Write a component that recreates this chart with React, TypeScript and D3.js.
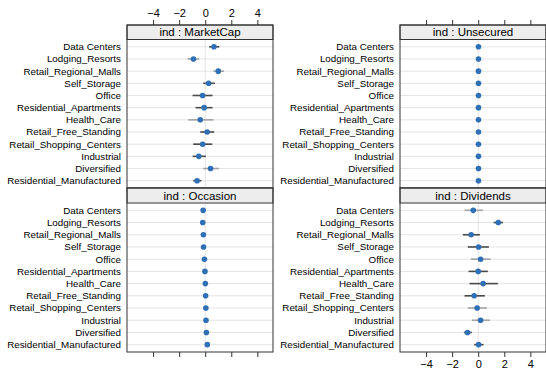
import React, { useEffect, useRef } from "react";
import * as d3 from "d3";

const categories = [
  "Data Centers",
  "Lodging_Resorts",
  "Retail_Regional_Malls",
  "Self_Storage",
  "Office",
  "Residential_Apartments",
  "Health_Care",
  "Retail_Free_Standing",
  "Retail_Shopping_Centers",
  "Industrial",
  "Diversified",
  "Residential_Manufactured",
];

const tickValues = [-4, -2, 0, 2, 4];

// estimates and intervals, one entry per category
const marketCapEst = [0.67, -0.9, 1.0, 0.26, -0.2, -0.08, -0.38, 0.15, -0.2, -0.49, 0.41, -0.62];
const marketCapLo = [0.3, -1.36, 0.62, -0.15, -0.97, -0.74, -1.3, -0.38, -0.92, -0.97, -0.15, -0.92];
const marketCapHi = [1.08, -0.46, 1.44, 0.74, 0.56, 0.56, 0.64, 0.69, 0.54, 0.05, 1.05, -0.28];
const marketCapTier = [1, 0, 0, 1, 1, 1, 0, 1, 1, 1, 0, 1];

const unsecuredEst = [0.02, 0.02, 0.02, 0.02, 0.02, 0.02, 0.02, 0.02, 0.02, 0.02, 0.02, 0.02];

const occasionEst = [-0.16, -0.19, -0.14, -0.13, -0.06, -0.02, 0.01, 0.03, 0.05, 0.06, 0.09, 0.16];

const dividendsEst = [-0.38, 1.54, -0.54, 0.03, 0.18, 0.0, 0.38, -0.31, -0.08, 0.18, -0.82, 0.03];
const dividendsLo = [-1.05, 1.18, -1.18, -0.8, -0.56, -0.74, -0.67, -1.05, -0.8, -0.49, -1.1, -0.31];
const dividendsHi = [0.36, 1.9, 0.13, 0.82, 0.95, 0.74, 1.51, 0.51, 0.67, 0.9, -0.49, 0.41];
const dividendsTier = [0, 1, 1, 1, 0, 1, 1, 1, 0, 0, 1, 1];

type Panel = {
  name: string;
  est: number[];
  lo?: number[];
  hi?: number[];
  tier?: number[];
  col: number;
  row: number;
};

const panels: Panel[] = [
  { name: "MarketCap", est: marketCapEst, lo: marketCapLo, hi: marketCapHi, tier: marketCapTier, col: 0, row: 0 },
  { name: "Unsecured", est: unsecuredEst, col: 1, row: 0 },
  { name: "Occasion", est: occasionEst, col: 0, row: 1 },
  { name: "Dividends", est: dividendsEst, lo: dividendsLo, hi: dividendsHi, tier: dividendsTier, col: 1, row: 1 },
];

const W = 546;
const H = 374;

function App() {
  const ref = useRef<SVGSVGElement>(null);

  useEffect(() => {
    const svg = d3.select(ref.current);
    svg.selectAll("*").remove();

    const colX = [
      [127, 273],
      [400, 546],
    ];
    // [stripTop, bodyTop, bodyBottom]
    const rowY = [
      [25, 39.5, 188],
      [188, 203, 352],
    ];
    const font = "Liberation Sans, Arial, Helvetica, sans-serif";
    const toneColor = d3.scaleOrdinal<number, string>().domain([0, 1]).range(["#a3a3a3", "#4a4a4a"]);

    panels.forEach((p) => {
      const [x0, x1] = colX[p.col];
      const [sTop, bTop, bBot] = rowY[p.row];
      const x = d3.scaleLinear().domain([-6, 5.2]).range([x0, x1]);
      const y = d3
        .scaleLinear()
        .domain([0.4, categories.length + 0.6])
        .range([bTop, bBot]);

      const g = svg.append("g");

      // row guide lines
      g.selectAll(".grid")
        .data(categories)
        .join("line")
        .attr("x1", x0)
        .attr("x2", x1)
        .attr("y1", (_d, i) => y(i + 1))
        .attr("y2", (_d, i) => y(i + 1))
        .attr("stroke", "#e4e4e4")
        .attr("stroke-width", 1);

      // zero reference
      g.append("line")
        .attr("x1", x(0))
        .attr("x2", x(0))
        .attr("y1", bTop)
        .attr("y2", bBot)
        .attr("stroke", "#e4e4e4")
        .attr("stroke-width", 1);

      // category labels
      g.selectAll(".lab")
        .data(categories)
        .join("text")
        .attr("x", x0 - 6)
        .attr("y", (_d, i) => y(i + 1))
        .attr("dy", "0.35em")
        .attr("text-anchor", "end")
        .attr("font-family", font)
        .attr("font-size", 9.8)
        .attr("fill", "#000")
        .text((d) => d);

      // intervals
      if (p.lo && p.hi) {
        g.selectAll(".ci")
          .data(p.est)
          .join("line")
          .attr("x1", (_d, i) => x(p.lo![i]))
          .attr("x2", (_d, i) => x(p.hi![i]))
          .attr("y1", (_d, i) => y(i + 1))
          .attr("y2", (_d, i) => y(i + 1))
          .attr("stroke", (_d, i) => toneColor(p.tier ? p.tier[i] : 1))
          .attr("stroke-width", 1.6);
      }

      // points
      g.selectAll(".pt")
        .data(p.est)
        .join("circle")
        .attr("cx", (d) => x(d))
        .attr("cy", (_d, i) => y(i + 1))
        .attr("r", 2.8)
        .attr("fill", "#2f6fb5");

      // strip
      g.append("rect")
        .attr("x", x0)
        .attr("y", sTop)
        .attr("width", x1 - x0)
        .attr("height", bTop - sTop)
        .attr("fill", "#ededed")
        .attr("stroke", "#333")
        .attr("stroke-width", 1);
      g.append("text")
        .attr("x", (x0 + x1) / 2)
        .attr("y", (sTop + bTop) / 2)
        .attr("dy", "0.36em")
        .attr("text-anchor", "middle")
        .attr("font-family", font)
        .attr("font-size", 11.5)
        .text(`ind : ${p.name}`);

      // panel border
      g.append("rect")
        .attr("x", x0)
        .attr("y", sTop)
        .attr("width", x1 - x0)
        .attr("height", bBot - sTop)
        .attr("fill", "none")
        .attr("stroke", "#333")
        .attr("stroke-width", 1);

      // axes
      const showLabels = (p.row === 0 && p.col === 0) || (p.row === 1 && p.col === 1);
      const axis =
        p.row === 0
          ? d3.axisTop(x).tickValues(tickValues).tickSize(5).tickPadding(3)
          : d3.axisBottom(x).tickValues(tickValues).tickSize(5).tickPadding(3);
      if (!showLabels) axis.tickFormat(() => "");
      const ax = svg
        .append("g")
        .attr("transform", `translate(0, ${p.row === 0 ? sTop : bBot})`)
        .call(axis);
      ax.select(".domain").remove();
      ax.selectAll("line").attr("stroke", "#333");
      ax.selectAll("text").attr("font-family", font).attr("font-size", 11).attr("fill", "#000");
    });
  }, []);

  return (
    <div style={{ position: "absolute", left: 0, top: 0 }}>
      <svg ref={ref} width={W} height={H} style={{ display: "block", background: "#fff" }} />
    </div>
  );
}

export default App;
